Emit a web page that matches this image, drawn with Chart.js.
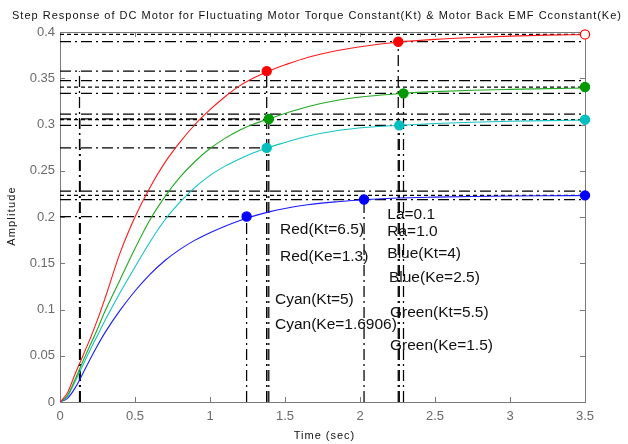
<!DOCTYPE html>
<html>
<head>
<meta charset="utf-8">
<script src="https://cdn.jsdelivr.net/npm/chart.js@4.4.0/dist/chart.umd.min.js"></script>
<style>
  html, body { margin: 0; padding: 0; background: #fff; }
  #wrap { width: 628px; height: 444px; }
</style>
</head>
<body>
<div id="wrap"><canvas id="stepChart" width="628" height="444"></canvas></div>
<script>
// step responses (time in sec)
const timeSec  = [0, 0.05, 0.1, 0.15, 0.2, 0.25, 0.3, 0.4, 0.5, 0.6, 0.7, 0.8, 0.9, 1.0, 1.1, 1.2, 1.3, 1.4, 1.5, 1.65, 1.85, 2.05, 2.25, 2.5, 2.75, 3.0, 3.25, 3.5];
const redAmp   = [0, 0.010, 0.030, 0.049, 0.068, 0.089, 0.112, 0.161, 0.2, 0.232, 0.259, 0.281, 0.3, 0.316, 0.33, 0.342, 0.351, 0.3585, 0.3645, 0.3725, 0.38, 0.3852, 0.389, 0.392, 0.394, 0.3955, 0.3966, 0.3972];
const greenAmp = [0, 0.007, 0.024, 0.043, 0.061, 0.079, 0.098, 0.132, 0.166, 0.197, 0.222, 0.243, 0.26, 0.274, 0.285, 0.294, 0.301, 0.3065, 0.312, 0.3192, 0.3262, 0.3305, 0.3333, 0.3355, 0.337, 0.338, 0.3388, 0.3395];
const cyanAmp  = [0, 0.006, 0.022, 0.039, 0.056, 0.072, 0.088, 0.118, 0.146, 0.173, 0.197, 0.216, 0.232, 0.245, 0.255, 0.263, 0.27, 0.2757, 0.2805, 0.2873, 0.2935, 0.297, 0.299, 0.301, 0.3025, 0.3035, 0.3042, 0.3047];
const blueAmp  = [0, 0.004, 0.015, 0.030, 0.046, 0.061, 0.075, 0.099, 0.12, 0.138, 0.153, 0.165, 0.175, 0.183, 0.19, 0.1962, 0.2015, 0.2058, 0.2092, 0.2132, 0.2165, 0.2189, 0.2205, 0.2215, 0.2222, 0.2227, 0.223, 0.2232];

const seriesNames  = ['Red', 'Green', 'Cyan', 'Blue'];
const lineColors   = ['#ff1a1a', '#22a822', '#14c4c4', '#1a1aff'];
const markerColors = ['#ff0000', '#009900', '#00bfbf', '#0000ff'];

// characteristics: rise time (90%), settling time (2% band), steady state
const riseStart  = [0.13, 0.132, 0.134, 0.133];
const riseTime   = [1.378, 1.392, 1.378, 1.244];
const riseAmp    = [0.3577, 0.306, 0.2747, 0.2005];
const settleTime = [2.255, 2.29, 2.262, 2.027];
const settleAmp  = [0.3895, 0.3337, 0.2991, 0.2189];
const bandUpper  = [0.4053, 0.3473, 0.3113, 0.2279];
const steadyAmp  = [0.3974, 0.3405, 0.3052, 0.2234];

const xTicks = [0, 0.5, 1, 1.5, 2, 2.5, 3, 3.5];
const xTickLabels = ['0', '0.5', '1', '1.5', '2', '2.5', '3', '3.5'];
const yTicks = [0, 0.05, 0.1, 0.15, 0.2, 0.25, 0.3, 0.35, 0.4];
const yTickLabels = ['0', '0.05', '0.1', '0.15', '0.2', '0.25', '0.3', '0.35', '0.4'];

const titleText = 'Step Response of DC Motor for Fluctuating Motor Torque Constant(Kt) & Motor Back EMF Cconstant(Ke)';
const xTitle = 'Time (sec)';
const yTitle = 'Amplitude';

const noteLines = ['Red(Kt=6.5)', 'Red(Ke=1.3)', 'Cyan(Kt=5)', 'Cyan(Ke=1.6906)',
                   'La=0.1', 'Ra=1.0', 'Blue(Kt=4)', 'Blue(Ke=2.5)', 'Green(Kt=5.5)', 'Green(Ke=1.5)'];
// where each note sits, in axis units (left edge, middle)
const notePos = [[1.467, 0.186], [1.467, 0.157], [1.433, 0.1106], [1.433, 0.0836],
                 [2.182, 0.2025], [2.182, 0.1838], [2.182, 0.16], [2.193, 0.134], [2.2, 0.0962], [2.2, 0.0612]];

const tEnd = timeSec[timeSec.length - 1];
const DASHDOT = [11, 4, 2, 4];
const DOTTED = [4, 3];

function refLine(points, dash) {
    return {
        data: points,
        borderColor: '#000',
        borderWidth: 1.25,
        borderDash: dash,
        pointRadius: 0,
        tension: 0,
        order: 3
    };
}

const curves = [redAmp, greenAmp, cyanAmp, blueAmp];
const datasets = [];

curves.forEach((amp, i) => {
    // reference lines first so they end up underneath
    datasets.push(refLine([{x: 0, y: steadyAmp[i]}, {x: tEnd, y: steadyAmp[i]}], DOTTED));
    datasets.push(refLine([{x: 0, y: bandUpper[i]}, {x: tEnd, y: bandUpper[i]}], DASHDOT));
    datasets.push(refLine([{x: 0, y: settleAmp[i]}, {x: tEnd, y: settleAmp[i]}], DASHDOT));
    datasets.push(refLine([{x: settleTime[i], y: 0}, {x: settleTime[i], y: settleAmp[i]}], DASHDOT));
    datasets.push(refLine([{x: 0, y: riseAmp[i]}, {x: riseTime[i], y: riseAmp[i]}], DASHDOT));
    datasets.push(refLine([{x: riseTime[i], y: 0}, {x: riseTime[i], y: riseAmp[i]}], DASHDOT));
    datasets.push(refLine([{x: riseStart[i], y: 0}, {x: riseStart[i], y: riseAmp[i]}], DASHDOT));

    datasets.push({
        label: seriesNames[i],
        data: timeSec.map((t, k) => ({x: t, y: amp[k]})),
        borderColor: lineColors[i],
        borderWidth: 1.1,
        pointRadius: 0,
        cubicInterpolationMode: 'monotone',
        order: 1
    });

    const fills = [markerColors[i], markerColors[i], i === 0 ? '#ffffff' : markerColors[i]];
    datasets.push({
        label: seriesNames[i] + ' marks',
        data: [{x: riseTime[i], y: riseAmp[i]}, {x: settleTime[i], y: settleAmp[i]}, {x: tEnd, y: steadyAmp[i]}],
        showLine: false,
        pointRadius: 4.6,
        pointBorderWidth: 1.2,
        pointBackgroundColor: fills,
        pointBorderColor: markerColors[i],
        clip: false,
        order: 0
    });
});

function drawSpaced(ctx, text, x, y, spacing) {
    if ('letterSpacing' in ctx) ctx.letterSpacing = spacing + 'px';
    ctx.fillText(text, x, y);
    if ('letterSpacing' in ctx) ctx.letterSpacing = '0px';
}

// MATLAB style box with inward ticks
const framePlugin = {
    id: 'frame',
    beforeDatasetsDraw(chart) {
        const {ctx, chartArea: a, scales} = chart;
        ctx.save();
        ctx.strokeStyle = '#7a7a7a';
        ctx.lineWidth = 1;
        ctx.strokeRect(a.left + 0.5, a.top + 0.5, a.right - a.left, a.bottom - a.top);
        ctx.beginPath();
        xTicks.forEach(v => {
            const px = Math.round(scales.x.getPixelForValue(v)) + 0.5;
            ctx.moveTo(px, a.bottom); ctx.lineTo(px, a.bottom - 5);
            ctx.moveTo(px, a.top); ctx.lineTo(px, a.top + 5);
        });
        yTicks.forEach(v => {
            const py = Math.round(scales.y.getPixelForValue(v)) + 0.5;
            ctx.moveTo(a.left, py); ctx.lineTo(a.left + 5, py);
            ctx.moveTo(a.right, py); ctx.lineTo(a.right - 5, py);
        });
        ctx.stroke();
        ctx.restore();
    }
};

const textPlugin = {
    id: 'texts',
    afterDraw(chart) {
        const {ctx, chartArea: a, scales} = chart;
        ctx.save();
        ctx.fillStyle = '#111';
        ctx.textBaseline = 'middle';

        // title, stretched to span the width like the original
        ctx.font = '11px "Liberation Sans", Arial, sans-serif';
        ctx.textAlign = 'center';
        const w = ctx.measureText(titleText).width;
        drawSpaced(ctx, titleText, 317, 16, (610 - w) / titleText.length);

        ctx.font = '11px "Liberation Sans", Arial, sans-serif';
        drawSpaced(ctx, xTitle, (a.left + a.right) / 2 + 2, 436, 1);

        ctx.save();
        ctx.translate(12, 216);
        ctx.rotate(-Math.PI / 2);
        drawSpaced(ctx, yTitle, 0, 0, 1.2);
        ctx.restore();

        ctx.font = '15.5px "Liberation Sans", Arial, sans-serif';
        ctx.textAlign = 'left';
        noteLines.forEach((txt, i) => {
            const px = scales.x.getPixelForValue(notePos[i][0]);
            const py = scales.y.getPixelForValue(notePos[i][1]);
            ctx.fillText(txt, px, py);
        });
        ctx.restore();
    }
};

const ctx = document.getElementById('stepChart').getContext('2d');
new Chart(ctx, {
    type: 'line',
    data: { datasets: datasets },
    options: {
        responsive: false,
        animation: false,
        events: [],
        layout: { padding: { left: 0, top: 32, right: 43, bottom: 0 } },
        plugins: {
            legend: { display: false },
            tooltip: { enabled: false },
            title: { display: false }
        },
        scales: {
            x: {
                type: 'linear',
                min: 0,
                max: 3.5,
                grid: { display: false, drawTicks: false },
                border: { display: false },
                afterBuildTicks: s => { s.ticks = xTicks.map(v => ({ value: v })); },
                afterFit: s => { s.height = 42; },
                ticks: {
                    autoSkip: false,
                    maxRotation: 0,
                    padding: 7,
                    color: '#6a6a6a',
                    font: { family: '"Liberation Sans", Arial, sans-serif', size: 13 },
                    callback: (val, idx) => xTickLabels[idx]
                }
            },
            y: {
                type: 'linear',
                min: 0,
                max: 0.4,
                grid: { display: false, drawTicks: false },
                border: { display: false },
                afterBuildTicks: s => { s.ticks = yTicks.map(v => ({ value: v })); },
                afterFit: s => { s.width = 60; },
                ticks: {
                    autoSkip: false,
                    padding: 5,
                    color: '#6a6a6a',
                    font: { family: '"Liberation Sans", Arial, sans-serif', size: 13 },
                    callback: (val, idx) => yTickLabels[idx]
                }
            }
        }
    },
    plugins: [framePlugin, textPlugin]
});
</script>
</body>
</html>
